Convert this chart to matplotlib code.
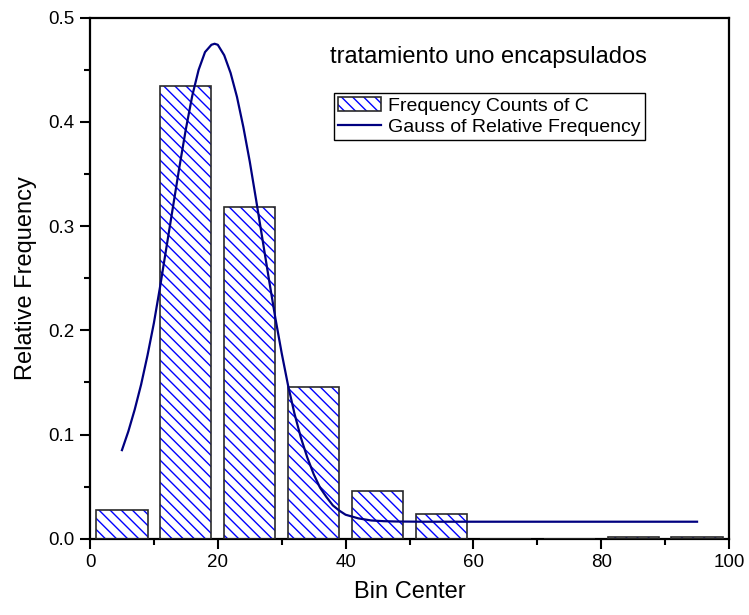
import matplotlib
matplotlib.use("Agg")
import matplotlib.pyplot as plt
from matplotlib.patches import Patch
from matplotlib.lines import Line2D
from matplotlib.legend_handler import HandlerTuple
from matplotlib.ticker import MultipleLocator, FormatStrFormatter

plt.rcParams['font.family'] = ['Liberation Sans', 'DejaVu Sans']
plt.rcParams['hatch.linewidth'] = 1.0

# Histogram data
bin_centers = [5, 15, 25, 35, 45, 55, 65, 75, 85, 95]
rel_freq = [0.028, 0.434, 0.318, 0.146, 0.046, 0.024, 0.0, 0.0, 0.0015, 0.0015]

# Gauss fit curve
gauss_x = [5, 6, 7, 8, 9, 10, 11, 12, 13, 14, 15, 16, 17, 18, 19, 19.5, 20,
           21, 22, 23, 24, 25, 26, 27, 28, 29, 30, 31, 32, 33, 34, 35, 36, 37,
           38, 39, 40, 42, 44, 46, 48, 52, 95]
gauss_y = [0.085, 0.103, 0.124, 0.148, 0.176, 0.207, 0.243, 0.281, 0.319,
           0.357, 0.393, 0.425, 0.450, 0.467, 0.474, 0.475, 0.474, 0.464,
           0.447, 0.424, 0.395, 0.362, 0.325, 0.287, 0.249, 0.212, 0.178,
           0.147, 0.120, 0.097, 0.078, 0.062, 0.049, 0.040, 0.032, 0.027,
           0.023, 0.0195, 0.0175, 0.0168, 0.0165, 0.0163, 0.0163]

title_text = "tratamiento uno encapsulados"
bar_label = "Frequency Counts of C"
line_label = "Gauss of Relative Frequency"

fig = plt.figure(figsize=(7.49, 6.15), dpi=100)
ax = fig.add_axes([90/749, 1 - 538.7/615, 639/749, 521/615])

hatch_col = '#0000FF'
edge_col = '#2a2a2a'
ax.bar(bin_centers, rel_freq, width=8, color='white', edgecolor=hatch_col,
       hatch='\\\\\\', linewidth=0, zorder=2)
ax.bar(bin_centers, rel_freq, width=8, fill=False, edgecolor=edge_col,
       linewidth=1.2, zorder=3)
ax.plot(gauss_x, gauss_y, color='#000080', linewidth=1.6, zorder=4,
        solid_joinstyle='round')

ax.set_xlim(0, 100)
ax.set_ylim(0, 0.5)
ax.xaxis.set_major_locator(MultipleLocator(20))
ax.xaxis.set_minor_locator(MultipleLocator(10))
ax.yaxis.set_major_locator(MultipleLocator(0.1))
ax.yaxis.set_minor_locator(MultipleLocator(0.05))
ax.yaxis.set_major_formatter(FormatStrFormatter('%.1f'))
ax.tick_params(which='major', direction='out', length=7, width=1.5, labelsize=13.5, pad=4)
ax.tick_params(which='minor', direction='out', length=4, width=1.5)
for s in ax.spines.values():
    s.set_linewidth(1.6)

ax.set_xlabel("Bin Center", fontsize=17, labelpad=7)
ax.set_ylabel("Relative Frequency", fontsize=17, labelpad=8)

ax.text(0.376, 0.925, title_text, transform=ax.transAxes, fontsize=17,
        ha='left', va='center')

h1 = Patch(facecolor='white', edgecolor=hatch_col, hatch='\\\\\\', linewidth=0)
h2 = Patch(fill=False, edgecolor=edge_col, linewidth=1.2)
h3 = Line2D([], [], color='#000080', linewidth=1.6)
leg = ax.legend([(h1, h2), h3], [bar_label, line_label],
                handler_map={tuple: HandlerTuple(ndivide=1)},
                loc='upper left', bbox_to_anchor=((334-90)/639, (538.7-92.7)/521),
                fontsize=14, frameon=True, fancybox=False, framealpha=1,
                edgecolor='black', borderpad=0.22, labelspacing=0.15,
                handlelength=2.2, handleheight=0.75, handletextpad=0.35,
                borderaxespad=0)
leg.get_frame().set_linewidth(1.0)

fig.savefig("out.png", dpi=100)
